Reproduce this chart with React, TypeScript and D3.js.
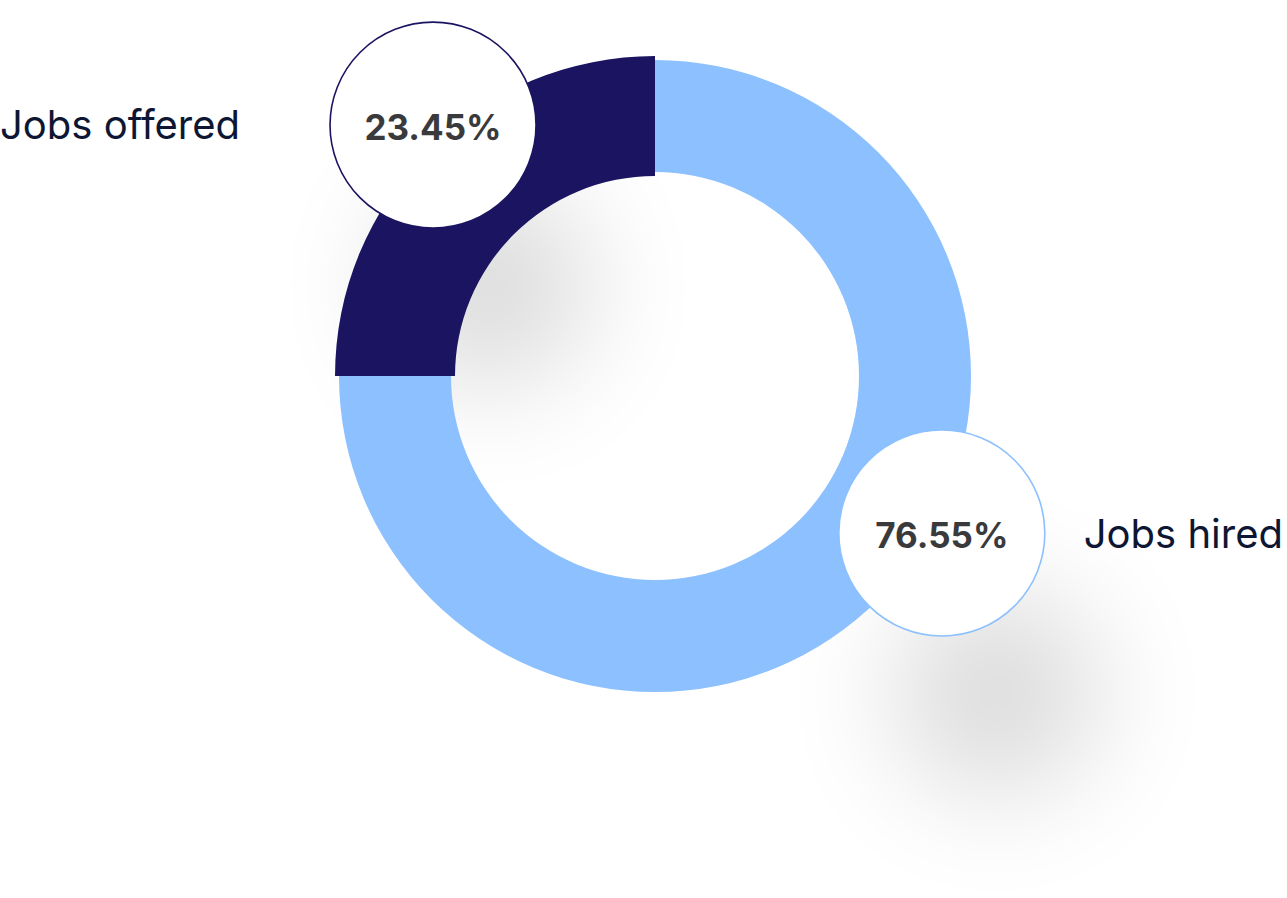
import React from "react";
import * as d3 from "d3";

const categories = ["Jobs offered", "Jobs hired"];
const values = [23.45, 76.55];
const colors = ["#1b1561", "#8cc0fe"];

const W = 1287;
const H = 898;
const CX = 655;
const CY = 376;

// visual geometry of each ring segment
const segStart = [-Math.PI / 2, 0];
const segEnd = [0, (3 * Math.PI) / 2];
const innerR = [200, 204];
const outerR = [320, 316];

// bubble placement (polar around centre)
const bubbleAngle = [-41.5, 118.7];
const bubbleDist = [335, 327];
const bubbleR = 103;
const bubbleStroke = ["#1b1561", "#8cc0fe"];

export default function App() {
  const arc = d3.arc<any>();
  const fmt = (v: number) => d3.format(".2f")(v) + "%";

  const bubbles = categories.map((c, i) => {
    const a = (bubbleAngle[i] * Math.PI) / 180;
    return {
      x: CX + bubbleDist[i] * Math.sin(a),
      y: CY - bubbleDist[i] * Math.cos(a),
    };
  });

  return (
    <svg
      width={W}
      height={H}
      style={{ position: "absolute", left: 0, top: 0, background: "#fff" }}
      fontFamily="Inter, 'Noto Sans', sans-serif"
    >
      <defs>
        <filter id="soft" x="-200%" y="-200%" width="500%" height="500%">
          <feGaussianBlur stdDeviation="58" />
        </filter>
      </defs>
      {/* shadows */}
      {bubbles.map((b, i) => (
        <circle
          key={"sh" + i}
          cx={b.x + 55}
          cy={b.y + 160}
          r={bubbleR}
          fill="#000"
          opacity={0.14}
          filter="url(#soft)"
        />
      ))}
      {/* ring */}
      <g transform={`translate(${CX},${CY})`}>
        {values.map((v, i) => (
          <path
            key={"a" + i}
            d={
              arc({
                innerRadius: innerR[i],
                outerRadius: outerR[i],
                startAngle: segStart[i],
                endAngle: segEnd[i],
              }) as string
            }
            fill={colors[i]}
          />
        ))}
      </g>
      {/* bubbles */}
      {bubbles.map((b, i) => (
        <g key={"b" + i}>
          <circle
            cx={b.x}
            cy={b.y}
            r={bubbleR}
            fill="#fff"
            stroke={bubbleStroke[i]}
            strokeWidth={1.6}
          />
          <text
            x={b.x}
            y={b.y + 14.5}
            textAnchor="middle"
            fontSize={35}
            fontWeight={700}
            fill="#3a3a3c"
          >
            {fmt(values[i])}
          </text>
        </g>
      ))}
      {/* labels */}
      <text x={0} y={138.5} fontSize={40} fill="#0d1733">
        {categories[0]}
      </text>
      <text x={1283} y={548} fontSize={40} fill="#0d1733" textAnchor="end">
        {categories[1]}
      </text>
    </svg>
  );
}
